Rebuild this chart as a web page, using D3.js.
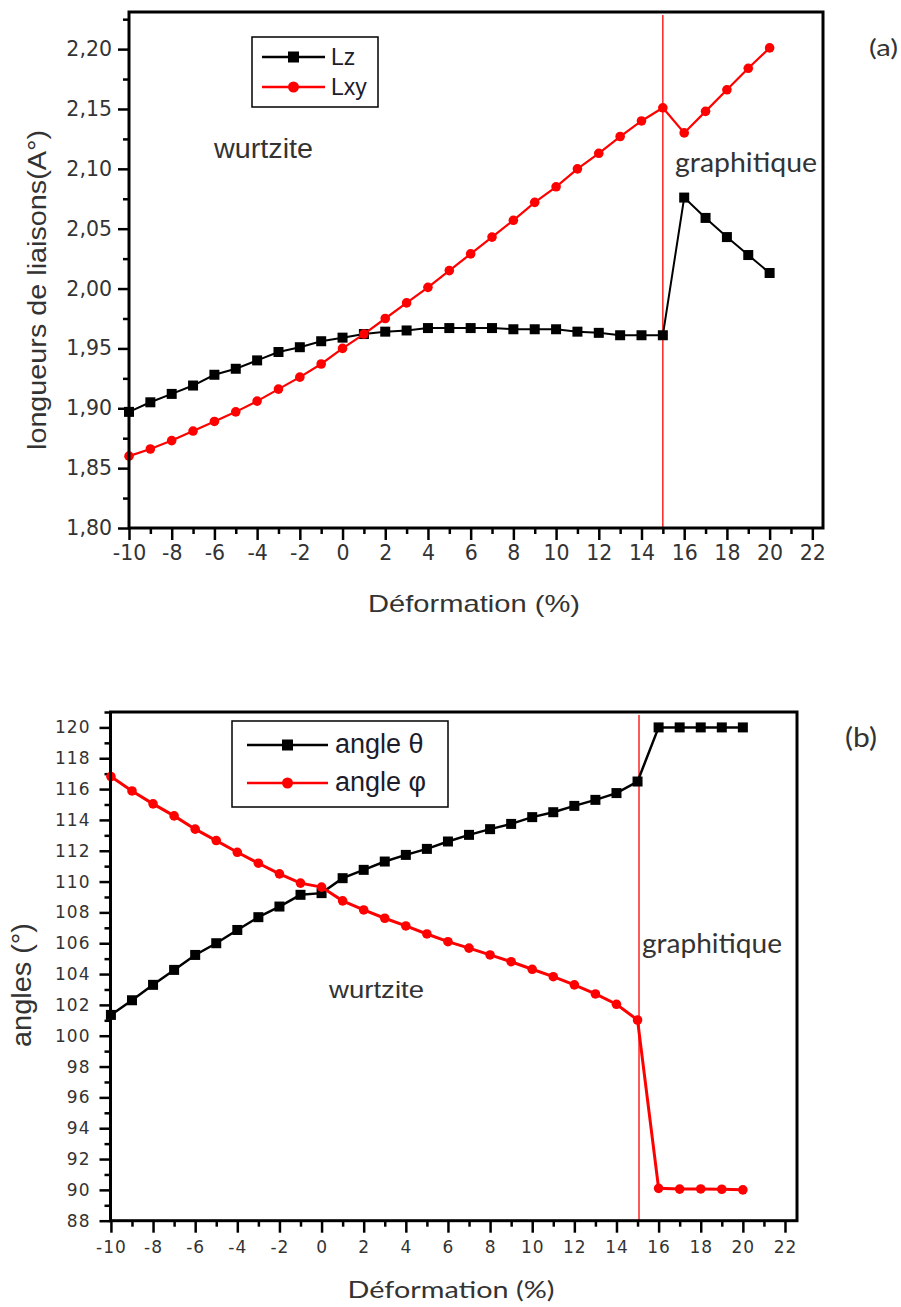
<!DOCTYPE html>
<html>
<head>
<meta charset="utf-8">
<script src="https://cdn.jsdelivr.net/npm/d3@7"></script>
<style>
  html, body { margin: 0; padding: 0; background: #fff; }
  svg { display: block; }
</style>
</head>
<body>
<svg id="chart" width="901" height="1307"></svg>
<script>
// ---------------- DATA ----------------
const strain = [-10,-9,-8,-7,-6,-5,-4,-3,-2,-1,0,1,2,3,4,5,6,7,8,9,10,11,12,13,14,15,16,17,18,19,20];

// (a) bond lengths (Å)
const lz  = [1.897,1.905,1.912,1.919,1.928,1.933,1.940,1.947,1.951,1.956,1.959,1.962,1.964,1.965,1.967,1.967,1.967,1.967,1.966,1.966,1.966,1.964,1.963,1.961,1.961,1.961,2.076,2.059,2.043,2.028,2.013];
const lxy = [1.860,1.866,1.873,1.881,1.889,1.897,1.906,1.916,1.926,1.937,1.950,1.962,1.975,1.988,2.001,2.015,2.029,2.043,2.057,2.072,2.085,2.100,2.113,2.127,2.140,2.151,2.130,2.148,2.166,2.184,2.201];

// (b) angles (°)
const angleTheta = [101.35,102.3,103.3,104.27,105.24,106.0,106.86,107.69,108.38,109.14,109.25,110.22,110.76,111.3,111.73,112.12,112.6,113.03,113.4,113.74,114.18,114.5,114.91,115.3,115.74,116.49,120.0,120.0,120.0,120.0,120.0];
const anglePhi   = [116.81,115.88,115.04,114.26,113.4,112.66,111.9,111.19,110.5,109.9,109.64,108.75,108.16,107.62,107.12,106.6,106.1,105.68,105.24,104.8,104.31,103.83,103.3,102.71,102.04,101.02,90.1,90.05,90.06,90.04,90.0];

const transitionStrainA = 15;
const transitionStrainB = 15.07;

const xTicksMajor = [-10,-8,-6,-4,-2,0,2,4,6,8,10,12,14,16,18,20,22];
const xTicksMinor = [-9,-7,-5,-3,-1,1,3,5,7,9,11,13,15,17,19,21];
const yTicksMajorA = [1.80,1.85,1.90,1.95,2.00,2.05,2.10,2.15,2.20];
const yTicksMinorA = [1.825,1.875,1.925,1.975,2.025,2.075,2.125,2.175,2.225];
const yTicksMajorB = [88,90,92,94,96,98,100,102,104,106,108,110,112,114,116,118,120];
const yTicksMinorB = [89,91,93,95,97,99,101,103,105,107,109,111,113,115,117,119,121];

const legendA = ["Lz", "Lxy"];
const legendB = ["angle θ", "angle φ"];

// ---------------- DRAW ----------------
const svg = d3.select("#chart");
const commaFmt = d3.formatLocale({decimal: ",", thousands: " ", grouping: [3], currency: ["", ""], minus: "-"}).format(".2f");
const intFmt = d => String(d);

function panel(cfg) {
  const g = svg.append("g");
  const x = d3.scaleLinear().domain(cfg.xDomain).range([cfg.left, cfg.right]);
  const y = d3.scaleLinear().domain(cfg.yDomain).range([cfg.bottom, cfg.top]);

  // minor ticks
  g.append("g").attr("transform", `translate(0,${cfg.bottom})`)
    .call(d3.axisBottom(x).tickValues(xTicksMinor).tickSize(6).tickFormat(""))
    .call(s => s.select(".domain").remove())
    .call(s => s.selectAll("line").attr("stroke", "#000").attr("stroke-width", 2.5));
  g.append("g").attr("transform", `translate(${cfg.left},0)`)
    .call(d3.axisLeft(y).tickValues(cfg.yMinor).tickSize(6).tickFormat(""))
    .call(s => s.select(".domain").remove())
    .call(s => s.selectAll("line").attr("stroke", "#000").attr("stroke-width", 2.5));

  // major ticks
  const xa = g.append("g").attr("transform", `translate(0,${cfg.bottom})`)
    .call(d3.axisBottom(x).tickValues(xTicksMajor).tickSize(12).tickPadding(cfg.xPad).tickFormat(intFmt));
  xa.select(".domain").remove();
  xa.selectAll("line").attr("stroke", "#000").attr("stroke-width", 2.5);
  xa.selectAll("text").attr("fill", "#333").style("font-family", cfg.tickFont)
    .style("font-size", cfg.tickSize + "px").style("letter-spacing", cfg.tickSpacing + "px");

  const ya = g.append("g").attr("transform", `translate(${cfg.left},0)`)
    .call(d3.axisLeft(y).tickValues(cfg.yMajor).tickSize(11).tickPadding(cfg.yPad).tickFormat(cfg.yFormat));
  ya.select(".domain").remove();
  ya.selectAll("line").attr("stroke", "#000").attr("stroke-width", 2.5);
  ya.selectAll("text").attr("fill", "#333").style("font-family", cfg.tickFont)
    .style("font-size", cfg.tickSize + "px").style("letter-spacing", cfg.tickSpacing + "px");

  // transition line
  g.append("line")
    .attr("x1", x(cfg.transition)).attr("x2", x(cfg.transition))
    .attr("y1", cfg.top + 3).attr("y2", cfg.bottom)
    .attr("stroke", "#ff0000").attr("stroke-width", 1.3);

  // series
  const line = d3.line().x((d, i) => x(strain[i])).y(d => y(d));
  cfg.series.forEach(s => {
    g.append("path").datum(s.values)
      .attr("d", line).attr("fill", "none")
      .attr("stroke", s.color).attr("stroke-width", s.width);
    if (s.marker === "square") {
      g.selectAll(null).data(s.values).enter().append("rect")
        .attr("x", (d, i) => x(strain[i]) - 5).attr("y", d => y(d) - 5)
        .attr("width", 10).attr("height", 10).attr("fill", s.color);
    } else {
      g.selectAll(null).data(s.values).enter().append("circle")
        .attr("cx", (d, i) => x(strain[i])).attr("cy", d => y(d))
        .attr("r", 4.8).attr("fill", s.color);
    }
  });

  // frame
  g.append("rect")
    .attr("x", cfg.left).attr("y", cfg.top)
    .attr("width", cfg.right - cfg.left).attr("height", cfg.bottom - cfg.top)
    .attr("fill", "none").attr("stroke", "#000").attr("stroke-width", 3);

  // legend
  const L = cfg.legend;
  g.append("rect").attr("x", L.x).attr("y", L.y).attr("width", L.w).attr("height", L.h)
    .attr("fill", "#fff").attr("stroke", "#000").attr("stroke-width", 1.5);
  cfg.series.forEach((s, i) => {
    const cy = L.rowY[i];
    g.append("line").attr("x1", L.lineX1).attr("x2", L.lineX2).attr("y1", cy).attr("y2", cy)
      .attr("stroke", s.color).attr("stroke-width", 2.5);
    const mx = (L.lineX1 + L.lineX2) / 2;
    if (s.marker === "square") {
      g.append("rect").attr("x", mx - 5.5).attr("y", cy - 5.5).attr("width", 11).attr("height", 11).attr("fill", s.color);
    } else {
      g.append("circle").attr("cx", mx).attr("cy", cy).attr("r", 5.5).attr("fill", s.color);
    }
    g.append("text").attr("x", L.textX).attr("y", cy + L.textDy)
      .attr("fill", "#1c1c2c").style("font-family", "Liberation Sans, Arial, sans-serif")
      .style("font-size", L.fontSize + "px").text(L.labels[i]);
  });

  // annotation texts
  cfg.texts.forEach(t => {
    const el = g.append("text").attr("x", t.x).attr("y", t.y)
      .attr("fill", t.color || "#333")
      .style("font-family", t.font).style("font-size", t.size + "px")
      .attr("text-anchor", t.anchor || "start")
      .text(t.text);
    if (t.rotate) el.attr("transform", `rotate(-90,${t.x},${t.y})`);
    if (t.len) el.attr("textLength", t.len).attr("lengthAdjust", "spacingAndGlyphs");
  });
}

panel({
  left: 129, right: 823, top: 12, bottom: 528,
  xDomain: [-10, 22.5], yDomain: [1.80, 2.231], transition: transitionStrainA,
  yMajor: yTicksMajorA, yMinor: yTicksMinorA, yFormat: commaFmt,
  tickFont: "DejaVu Sans, sans-serif", tickSize: 20.5, tickSpacing: 0, xPad: 5, yPad: 6,
  series: [
    {values: lz, color: "#000", marker: "square", width: 2},
    {values: lxy, color: "#ff0000", marker: "circle", width: 2.2}
  ],
  legend: {x: 252, y: 37, w: 126, h: 70, rowY: [57, 87], lineX1: 262, lineX2: 325, textX: 331, textDy: 8, fontSize: 23, labels: legendA},
  texts: [
    {text: "wurtzite", x: 214, y: 158, size: 27, font: "Liberation Sans, Arial, sans-serif", len: 99},
    {text: "graphitique", x: 675, y: 172, size: 27, font: "Lato, sans-serif", len: 142},
    {text: "(a)", x: 869, y: 56, size: 24, font: "Lato, sans-serif", len: 29},
    {text: "Déformation (%)", x: 474, y: 612, size: 24, font: "Liberation Sans, Arial, sans-serif", anchor: "middle", len: 212},
    {text: "longueurs de liaisons(A°)", x: 46, y: 290, size: 25, font: "Liberation Sans, Arial, sans-serif", anchor: "middle", rotate: true, len: 320}
  ]
});

panel({
  left: 110.5, right: 797, top: 712, bottom: 1220.7,
  xDomain: [-10.02, 22.57], yDomain: [88, 121], transition: transitionStrainB,
  yMajor: yTicksMajorB, yMinor: yTicksMinorB, yFormat: intFmt,
  tickFont: "DejaVu Sans, sans-serif", tickSize: 17, tickSpacing: 1, xPad: 8, yPad: 9,
  series: [
    {values: angleTheta, color: "#000", marker: "square", width: 2.5},
    {values: anglePhi, color: "#ff0000", marker: "circle", width: 3}
  ],
  legend: {x: 232, y: 721, w: 216, h: 86, rowY: [745, 783], lineX1: 247, lineX2: 328, textX: 335, textDy: 8, fontSize: 27, labels: legendB},
  texts: [
    {text: "wurtzite", x: 329, y: 998, size: 24, font: "Liberation Sans, Arial, sans-serif", len: 95},
    {text: "graphitique", x: 642, y: 953, size: 26, font: "Lato, sans-serif", len: 140},
    {text: "(b)", x: 845, y: 747, size: 26, font: "Lato, sans-serif", len: 32},
    {text: "Déformation (%)", x: 451, y: 1298, size: 24, font: "Lato, sans-serif", anchor: "middle", len: 207},
    {text: "angles (°)", x: 31, y: 985, size: 27, font: "Liberation Sans, Arial, sans-serif", anchor: "middle", rotate: true, len: 124}
  ]
});
</script>
</body>
</html>
